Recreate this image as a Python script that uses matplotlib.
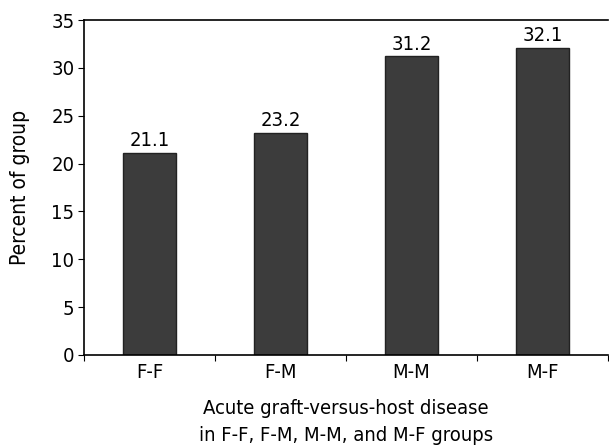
import matplotlib
matplotlib.use("Agg")
import matplotlib.pyplot as plt

plt.rcParams['font.family'] = ['DejaVu Sans']
plt.rcParams['font.stretch'] = 'condensed'

categories = ["F-F", "F-M", "M-M", "M-F"]
values = [21.1, 23.2, 31.2, 32.1]
yticks = [0, 5, 10, 15, 20, 25, 30, 35]

fig = plt.figure(figsize=(6.09, 4.46), dpi=100)
ax = fig.add_axes([84/609, 1-355/446, 524/609, 335/446])
x = list(range(len(categories)))
ax.bar(x, values, width=0.4, color="#3c3c3c", edgecolor="#222222", linewidth=1)
for xi, v in zip(x, values):
    ax.text(xi, v + 0.3, f"{v}", ha="center", va="bottom", fontsize=14.5)

ax.set_xlim(-0.5, 3.5)
ax.set_ylim(0, 35)
ax.set_yticks(yticks)
ax.set_yticklabels([str(t) for t in yticks], fontsize=14.5)
ax.set_xticks([-0.5, 0.5, 1.5, 2.5, 3.5])
ax.set_xticklabels([])
ax.set_xticks(x, minor=True)
ax.set_xticklabels(categories, minor=True, fontsize=14.5)
ax.tick_params(axis="x", which="minor", length=0, pad=6)
ax.tick_params(axis="x", which="major", length=4, direction="out")
ax.tick_params(axis="y", length=4, direction="out", pad=3)
ax.spines["right"].set_visible(False)
for s in ["left", "top", "bottom"]:
    ax.spines[s].set_linewidth(1.2)
ax.set_ylabel("Percent of group", fontsize=15, labelpad=15)
ax.set_xlabel("Acute graft-versus-host disease\nin F-F, F-M, M-M, and M-F groups", fontsize=14.5, labelpad=12, linespacing=1.55)
fig.savefig("out.png", dpi=100)
